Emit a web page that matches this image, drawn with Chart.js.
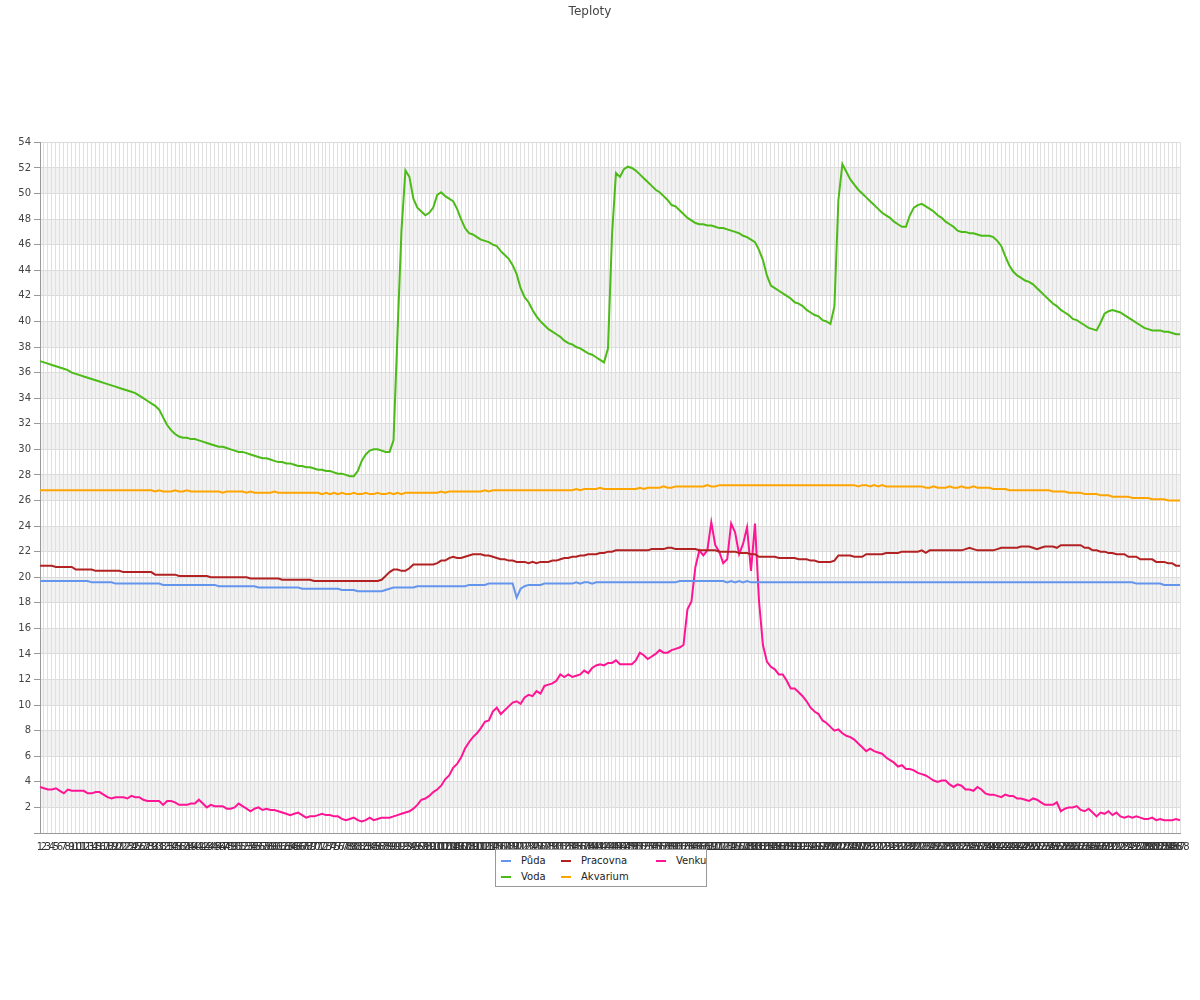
<!DOCTYPE html>
<html>
<head>
<meta charset="utf-8">
<title>Teploty</title>
<script src="https://cdn.jsdelivr.net/npm/chart.js@4"></script>
<style>
  body { margin: 0; background: #fff; font-family: "DejaVu Sans", sans-serif; }
  #wrap { position: relative; width: 1200px; height: 1000px; }
  #legend { position: absolute; left: 495px; top: 849px; width: 210px; height: 36px;
            border: 1px solid #999; background: #fff; font-size: 10px; color: #222; }
  .item { position: absolute; white-space: nowrap; line-height: 12px; }
  .item i { display: inline-block; width: 10px; height: 2px; vertical-align: middle; margin-right: 10px; }
</style>
</head>
<body>
<div id="wrap">
  <canvas id="chart" width="1200" height="1000"></canvas>
  <div id="legend"></div>
</div>
<script>
// categories: one reading every 5 minutes
const labels = Array.from({ length: 288 }, (_, i) => String(i + 1));

const puda = [
  19.7,19.7,19.7,19.7,19.7,19.7,19.7,19.7,19.7,19.7,19.7,19.7,
  19.7,19.6,19.6,19.6,19.6,19.6,19.6,19.5,19.5,19.5,19.5,19.5,
  19.5,19.5,19.5,19.5,19.5,19.5,19.5,19.4,19.4,19.4,19.4,19.4,
  19.4,19.4,19.4,19.4,19.4,19.4,19.4,19.4,19.4,19.3,19.3,19.3,
  19.3,19.3,19.3,19.3,19.3,19.3,19.3,19.2,19.2,19.2,19.2,19.2,
  19.2,19.2,19.2,19.2,19.2,19.2,19.1,19.1,19.1,19.1,19.1,19.1,
  19.1,19.1,19.1,19.1,19.0,19.0,19.0,19.0,18.9,18.9,18.9,18.9,
  18.9,18.9,18.9,19.0,19.1,19.2,19.2,19.2,19.2,19.2,19.2,19.3,
  19.3,19.3,19.3,19.3,19.3,19.3,19.3,19.3,19.3,19.3,19.3,19.3,
  19.4,19.4,19.4,19.4,19.4,19.5,19.5,19.5,19.5,19.5,19.5,19.5,
  18.4,19.1,19.3,19.4,19.4,19.4,19.4,19.5,19.5,19.5,19.5,19.5,
  19.5,19.5,19.5,19.6,19.5,19.6,19.6,19.5,19.6,19.6,19.6,19.6,
  19.6,19.6,19.6,19.6,19.6,19.6,19.6,19.6,19.6,19.6,19.6,19.6,
  19.6,19.6,19.6,19.6,19.6,19.7,19.7,19.7,19.7,19.7,19.7,19.7,
  19.7,19.7,19.7,19.7,19.7,19.6,19.7,19.6,19.7,19.6,19.7,19.6,
  19.6,19.6,19.6,19.6,19.6,19.6,19.6,19.6,19.6,19.6,19.6,19.6,
  19.6,19.6,19.6,19.6,19.6,19.6,19.6,19.6,19.6,19.6,19.6,19.6,
  19.6,19.6,19.6,19.6,19.6,19.6,19.6,19.6,19.6,19.6,19.6,19.6,
  19.6,19.6,19.6,19.6,19.6,19.6,19.6,19.6,19.6,19.6,19.6,19.6,
  19.6,19.6,19.6,19.6,19.6,19.6,19.6,19.6,19.6,19.6,19.6,19.6,
  19.6,19.6,19.6,19.6,19.6,19.6,19.6,19.6,19.6,19.6,19.6,19.6,
  19.6,19.6,19.6,19.6,19.6,19.6,19.6,19.6,19.6,19.6,19.6,19.6,
  19.6,19.6,19.6,19.6,19.6,19.6,19.6,19.6,19.6,19.6,19.6,19.6,
  19.5,19.5,19.5,19.5,19.5,19.5,19.5,19.4,19.4,19.4,19.4,19.4
];

const voda = [
  36.9,36.8,36.7,36.6,36.5,36.4,36.3,36.2,36.0,35.9,35.8,35.7,
  35.6,35.5,35.4,35.3,35.2,35.1,35.0,34.9,34.8,34.7,34.6,34.5,
  34.4,34.2,34.0,33.8,33.6,33.4,33.1,32.5,31.9,31.5,31.2,31.0,
  30.9,30.9,30.8,30.8,30.7,30.6,30.5,30.4,30.3,30.2,30.2,30.1,
  30.0,29.9,29.8,29.8,29.7,29.6,29.5,29.4,29.3,29.3,29.2,29.1,
  29.0,29.0,28.9,28.9,28.8,28.7,28.7,28.6,28.6,28.5,28.4,28.4,
  28.3,28.3,28.2,28.1,28.1,28.0,27.9,27.9,28.3,29.1,29.6,29.9,
  30.0,30.0,29.9,29.8,29.8,30.7,39.0,47.1,51.8,51.3,49.6,48.9,
  48.6,48.3,48.5,48.9,49.9,50.1,49.8,49.6,49.4,48.8,48.0,47.3,
  46.9,46.8,46.6,46.4,46.3,46.2,46.0,45.9,45.5,45.2,44.9,44.4,
  43.7,42.6,41.9,41.5,40.9,40.4,40.0,39.7,39.4,39.2,39.0,38.8,
  38.5,38.3,38.2,38.0,37.9,37.7,37.5,37.4,37.2,37.0,36.8,37.9,
  46.7,51.6,51.3,51.9,52.1,52.0,51.8,51.5,51.2,50.9,50.6,50.3,
  50.1,49.8,49.5,49.1,49.0,48.7,48.4,48.1,47.9,47.7,47.6,47.6,
  47.5,47.5,47.4,47.3,47.3,47.2,47.1,47.0,46.9,46.7,46.6,46.4,
  46.2,45.6,44.8,43.6,42.8,42.6,42.4,42.2,42.0,41.8,41.5,41.4,
  41.2,40.9,40.7,40.5,40.4,40.1,40.0,39.8,41.2,49.5,52.3,51.7,
  51.1,50.7,50.3,50.0,49.7,49.4,49.1,48.8,48.5,48.3,48.1,47.8,
  47.6,47.4,47.4,48.3,48.9,49.1,49.2,49.0,48.8,48.6,48.3,48.1,
  47.8,47.6,47.4,47.1,47.0,47.0,46.9,46.9,46.8,46.7,46.7,46.7,
  46.6,46.3,45.9,45.1,44.4,43.9,43.6,43.4,43.2,43.1,42.9,42.6,
  42.3,42.0,41.7,41.4,41.2,40.9,40.7,40.5,40.2,40.1,39.9,39.7,
  39.5,39.4,39.3,39.9,40.6,40.8,40.9,40.8,40.7,40.5,40.3,40.1,
  39.9,39.7,39.5,39.4,39.3,39.3,39.3,39.2,39.2,39.1,39.0,39.0
];

const pracovna = [
  20.9,20.9,20.9,20.9,20.8,20.8,20.8,20.8,20.8,20.6,20.6,20.6,
  20.6,20.6,20.5,20.5,20.5,20.5,20.5,20.5,20.5,20.4,20.4,20.4,
  20.4,20.4,20.4,20.4,20.4,20.2,20.2,20.2,20.2,20.2,20.2,20.1,
  20.1,20.1,20.1,20.1,20.1,20.1,20.1,20.0,20.0,20.0,20.0,20.0,
  20.0,20.0,20.0,20.0,20.0,19.9,19.9,19.9,19.9,19.9,19.9,19.9,
  19.9,19.8,19.8,19.8,19.8,19.8,19.8,19.8,19.8,19.7,19.7,19.7,
  19.7,19.7,19.7,19.7,19.7,19.7,19.7,19.7,19.7,19.7,19.7,19.7,
  19.7,19.7,19.8,20.1,20.4,20.6,20.6,20.5,20.5,20.7,21.0,21.0,
  21.0,21.0,21.0,21.0,21.1,21.3,21.3,21.5,21.6,21.5,21.5,21.6,
  21.7,21.8,21.8,21.8,21.7,21.7,21.6,21.5,21.4,21.4,21.3,21.3,
  21.2,21.2,21.2,21.1,21.2,21.1,21.2,21.2,21.2,21.3,21.3,21.4,
  21.5,21.5,21.6,21.6,21.7,21.7,21.8,21.8,21.8,21.9,21.9,22.0,
  22.0,22.1,22.1,22.1,22.1,22.1,22.1,22.1,22.1,22.1,22.2,22.2,
  22.2,22.2,22.3,22.3,22.2,22.2,22.2,22.2,22.2,22.2,22.1,22.1,
  22.1,22.1,22.1,22.0,22.0,22.0,22.0,22.0,21.9,21.9,21.9,21.8,
  21.8,21.6,21.6,21.6,21.6,21.6,21.5,21.5,21.5,21.5,21.5,21.4,
  21.4,21.4,21.3,21.3,21.2,21.2,21.2,21.2,21.3,21.7,21.7,21.7,
  21.7,21.6,21.6,21.6,21.8,21.8,21.8,21.8,21.8,21.9,21.9,21.9,
  21.9,22.0,22.0,22.0,22.0,22.0,22.1,21.9,22.1,22.1,22.1,22.1,
  22.1,22.1,22.1,22.1,22.1,22.2,22.3,22.2,22.1,22.1,22.1,22.1,
  22.1,22.2,22.3,22.3,22.3,22.3,22.3,22.4,22.4,22.4,22.3,22.2,
  22.3,22.4,22.4,22.4,22.3,22.5,22.5,22.5,22.5,22.5,22.5,22.3,
  22.3,22.1,22.1,22.0,22.0,21.9,21.9,21.8,21.8,21.8,21.6,21.6,
  21.6,21.4,21.4,21.4,21.4,21.2,21.2,21.2,21.1,21.1,20.9,20.9
];

const akvarium = [
  26.8,26.8,26.8,26.8,26.8,26.8,26.8,26.8,26.8,26.8,26.8,26.8,
  26.8,26.8,26.8,26.8,26.8,26.8,26.8,26.8,26.8,26.8,26.8,26.8,
  26.8,26.8,26.8,26.8,26.8,26.7,26.8,26.7,26.7,26.7,26.8,26.7,
  26.7,26.8,26.7,26.7,26.7,26.7,26.7,26.7,26.7,26.7,26.6,26.7,
  26.7,26.7,26.7,26.7,26.6,26.7,26.6,26.6,26.6,26.6,26.6,26.7,
  26.6,26.6,26.6,26.6,26.6,26.6,26.6,26.6,26.6,26.6,26.6,26.5,
  26.6,26.5,26.6,26.5,26.6,26.5,26.5,26.6,26.5,26.5,26.6,26.5,
  26.5,26.6,26.5,26.5,26.6,26.5,26.6,26.5,26.6,26.6,26.6,26.6,
  26.6,26.6,26.6,26.6,26.6,26.7,26.6,26.7,26.7,26.7,26.7,26.7,
  26.7,26.7,26.7,26.7,26.8,26.7,26.8,26.8,26.8,26.8,26.8,26.8,
  26.8,26.8,26.8,26.8,26.8,26.8,26.8,26.8,26.8,26.8,26.8,26.8,
  26.8,26.8,26.8,26.9,26.8,26.9,26.9,26.9,26.9,27.0,26.9,26.9,
  26.9,26.9,26.9,26.9,26.9,26.9,26.9,27.0,26.9,27.0,27.0,27.0,
  27.0,27.1,27.0,27.0,27.1,27.1,27.1,27.1,27.1,27.1,27.1,27.1,
  27.2,27.1,27.1,27.2,27.2,27.2,27.2,27.2,27.2,27.2,27.2,27.2,
  27.2,27.2,27.2,27.2,27.2,27.2,27.2,27.2,27.2,27.2,27.2,27.2,
  27.2,27.2,27.2,27.2,27.2,27.2,27.2,27.2,27.2,27.2,27.2,27.2,
  27.2,27.2,27.1,27.2,27.2,27.1,27.2,27.1,27.2,27.1,27.1,27.1,
  27.1,27.1,27.1,27.1,27.1,27.1,27.1,27.0,27.0,27.1,27.0,27.0,
  27.0,27.1,27.0,27.0,27.1,27.0,27.0,27.1,27.0,27.0,27.0,27.0,
  26.9,26.9,26.9,26.9,26.8,26.8,26.8,26.8,26.8,26.8,26.8,26.8,
  26.8,26.8,26.8,26.7,26.7,26.7,26.7,26.6,26.6,26.6,26.6,26.5,
  26.5,26.5,26.5,26.4,26.4,26.4,26.3,26.3,26.3,26.3,26.3,26.2,
  26.2,26.2,26.2,26.2,26.1,26.1,26.1,26.1,26.0,26.0,26.0,26.0
];

const venku = [
  3.6,3.5,3.4,3.4,3.5,3.3,3.1,3.4,3.3,3.3,3.3,3.3,
  3.1,3.1,3.2,3.2,3.0,2.8,2.7,2.8,2.8,2.8,2.7,2.9,
  2.8,2.8,2.6,2.5,2.5,2.5,2.5,2.2,2.5,2.5,2.4,2.2,
  2.2,2.2,2.3,2.3,2.6,2.3,2.0,2.2,2.1,2.1,2.1,1.9,
  1.9,2.0,2.3,2.1,1.9,1.7,1.9,2.0,1.8,1.9,1.8,1.8,
  1.7,1.6,1.5,1.4,1.5,1.6,1.4,1.2,1.3,1.3,1.4,1.5,
  1.4,1.4,1.3,1.3,1.1,1.0,1.1,1.2,1.0,0.9,1.0,1.2,
  1.0,1.1,1.2,1.2,1.2,1.3,1.4,1.5,1.6,1.7,1.9,2.2,
  2.6,2.7,2.9,3.2,3.4,3.7,4.2,4.5,5.1,5.4,5.9,6.6,
  7.1,7.5,7.8,8.2,8.7,8.8,9.5,9.8,9.3,9.6,9.9,10.2,
  10.3,10.1,10.6,10.8,10.7,11.1,10.9,11.5,11.6,11.7,11.9,12.4,
  12.2,12.4,12.2,12.3,12.4,12.7,12.5,12.9,13.1,13.2,13.1,13.3,
  13.3,13.5,13.2,13.2,13.2,13.2,13.5,14.1,13.9,13.6,13.8,14.0,
  14.3,14.1,14.1,14.3,14.4,14.5,14.7,17.5,18.1,20.8,22.1,21.7,
  22.1,24.3,22.5,22.0,21.1,21.4,24.2,23.5,21.8,22.6,23.9,20.5,
  24.2,18.2,14.7,13.4,13.0,12.8,12.4,12.4,11.9,11.3,11.3,11.0,
  10.7,10.3,9.8,9.5,9.3,8.8,8.6,8.3,8.0,8.1,7.8,7.6,
  7.5,7.3,7.0,6.7,6.4,6.6,6.4,6.3,6.2,5.9,5.7,5.5,
  5.2,5.3,5.0,5.0,4.9,4.7,4.6,4.5,4.3,4.1,4.0,4.1,
  4.1,3.8,3.6,3.8,3.7,3.4,3.4,3.3,3.6,3.4,3.1,3.0,
  3.0,2.9,2.8,3.0,2.9,2.9,2.7,2.7,2.6,2.5,2.7,2.6,
  2.4,2.2,2.2,2.2,2.4,1.7,1.9,2.0,2.0,2.1,1.8,1.7,
  1.9,1.6,1.3,1.6,1.5,1.7,1.4,1.6,1.3,1.2,1.3,1.2,
  1.3,1.2,1.1,1.1,1.2,1.0,1.1,1.0,1.0,1.0,1.1,1.0
];

Chart.defaults.font.family = '"DejaVu Sans", sans-serif';
Chart.defaults.font.size = 10;
Chart.defaults.color = '#444';

function series(label, data, color) {
    return {
        label: label,
        data: data,
        borderColor: color,
        backgroundColor: color,
        borderWidth: 2,
        pointRadius: 0,
        tension: 0,
        fill: false
    };
}

// light grey stripes every other 2 degrees
const bands = {
    id: 'bands',
    beforeDraw(chart) {
        const { ctx, chartArea: a, scales: { y } } = chart;
        ctx.save();
        ctx.fillStyle = '#f2f2f2';
        for (let v = 2; v < 54; v += 4) {
            const top = y.getPixelForValue(v + 2);
            const bottom = y.getPixelForValue(v);
            ctx.fillRect(a.left, top, a.right - a.left, bottom - top);
        }
        ctx.restore();
    }
};

const chart = new Chart(document.getElementById('chart'), {
    type: 'line',
    data: {
        labels: labels,
        datasets: [
            series('Půda', puda, '#6495ed'),
            series('Voda', voda, '#4cbb17'),
            series('Pracovna', pracovna, '#b22222'),
            series('Akvarium', akvarium, '#ffa500'),
            series('Venku', venku, '#ff1493')
        ]
    },
    options: {
        responsive: false,
        animation: false,
        layout: { padding: { left: 0, right: 20, top: 0, bottom: 139 } },
        plugins: {
            legend: { display: false },
            tooltip: { enabled: false },
            title: {
                display: true,
                text: 'Teploty',
                color: '#444',
                font: { size: 12, weight: 'normal' },
                padding: { top: 5, bottom: 123 }
            }
        },
        scales: {
            x: {
                grid: { color: '#e0e0e0', drawTicks: false },
                border: { color: '#999' },
                ticks: { autoSkip: false, maxRotation: 0, minRotation: 0, padding: 8, color: '#333' }
            },
            y: {
                min: 0,
                max: 54,
                afterFit: function(scale) { scale.width = 40; },
                grid: {
                    color: function(ctx) {
                        return ctx.tick && ctx.tick.value % 2 === 0 ? '#dcdcdc' : 'rgba(0,0,0,0)';
                    },
                    tickColor: '#999',
                    tickLength: 6
                },
                border: { color: '#999' },
                ticks: {
                    stepSize: 1,
                    padding: 3,
                    color: '#444',
                    callback: function(value) {
                        return value !== 0 && value % 2 === 0 ? value : '';
                    }
                }
            }
        }
    },
    plugins: [bands]
});

// legend box under the axis, three columns
const legendPos = [[5, 5], [5, 21], [65, 5], [65, 21], [160, 5]];
const legend = document.getElementById('legend');
chart.data.datasets.forEach(function(ds, i) {
    const item = document.createElement('div');
    item.className = 'item';
    item.style.left = legendPos[i][0] + 'px';
    item.style.top = legendPos[i][1] + 'px';
    item.innerHTML = '<i style="background:' + ds.borderColor + '"></i>' + ds.label;
    legend.appendChild(item);
});
</script>
</body>
</html>
